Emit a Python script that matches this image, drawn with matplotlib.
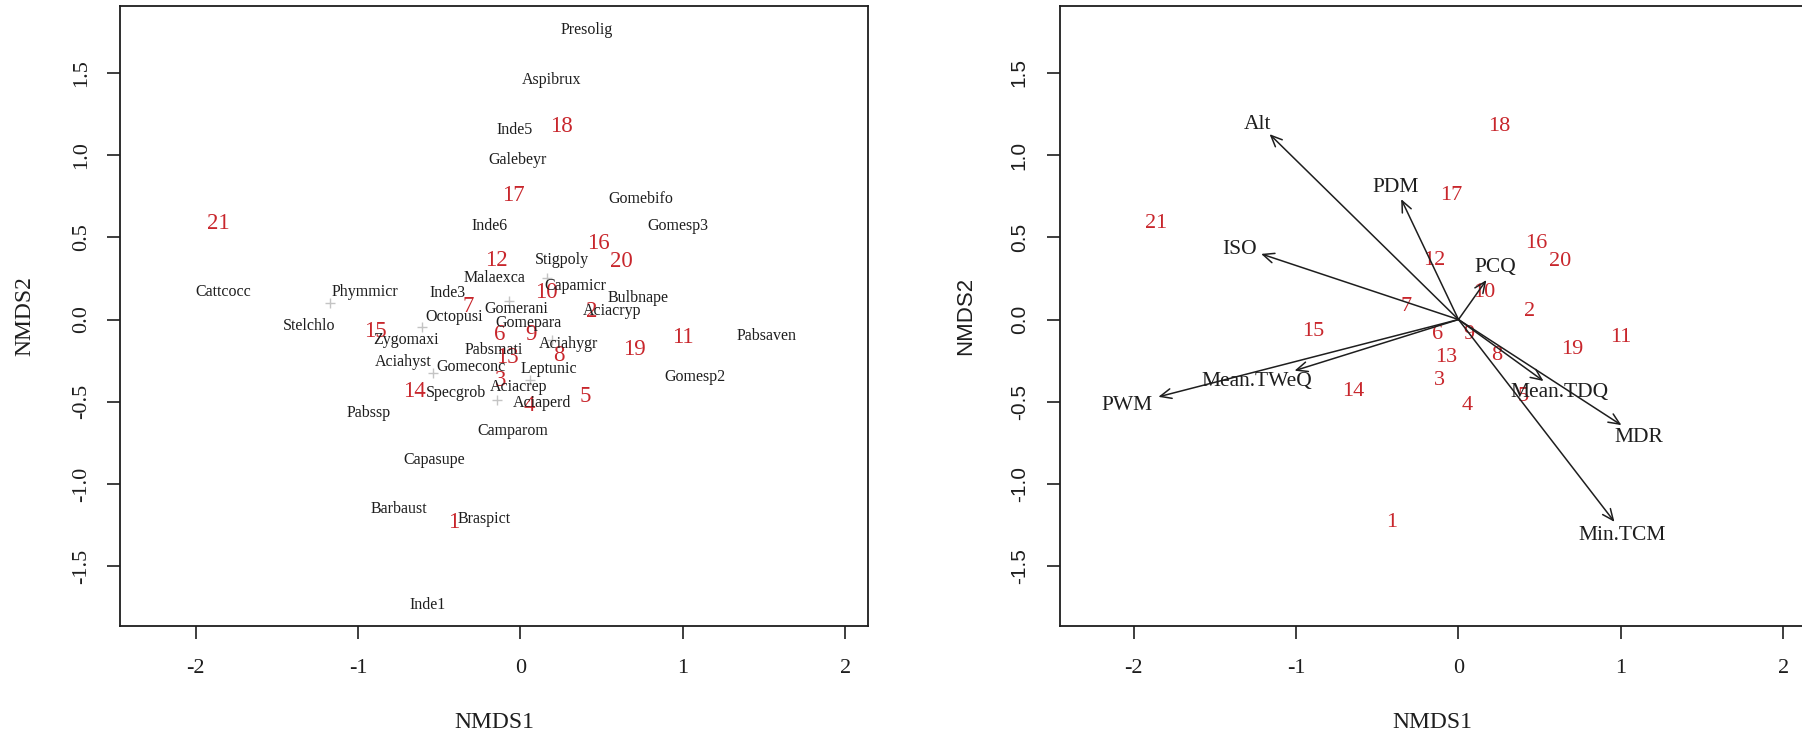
import matplotlib
matplotlib.use("Agg")
import matplotlib.pyplot as plt

plt.rcParams['font.family'] = ['Liberation Serif', 'DejaVu Serif']

# site scores (NMDS1, NMDS2), sites 1..21
site_ids = [str(i) for i in range(1, 22)]
site_x = [-0.413, 0.439, -0.120, 0.055, 0.398, -0.127, -0.323, 0.237, 0.064, 0.157,
          1.000, -0.147, -0.078, -0.650, -0.893, 0.482, -0.045, 0.254, 0.702, 0.624, -1.860]
site_y = [-1.235, 0.050, -0.372, -0.520, -0.466, -0.088, 0.078, -0.218, -0.088, 0.163,
          -0.110, 0.358, -0.228, -0.436, -0.070, 0.465, 0.757, 1.175, -0.185, 0.350, 0.586]

# species scores (labelled)
species = ["Presolig", "Aspibrux", "Inde5", "Galebeyr", "Gomebifo", "Inde6", "Gomesp3",
           "Stigpoly", "Malaexca", "Capamicr", "Inde3", "Bulbnape", "Gomerani", "Aciacryp",
           "Octopusi", "Gomepara", "Aciahygr", "Pabsmati", "Gomeconc", "Leptunic", "Aciacrep",
           "Specgrob", "Aciaperd", "Camparom", "Cattcocc", "Phymmicr", "Stelchlo", "Zygomaxi",
           "Aciahyst", "Pabssp", "Pabsaven", "Gomesp2", "Capasupe", "Barbaust", "Braspict",
           "Inde1"]
spec_x = [0.410, 0.189, -0.033, -0.018, 0.741, -0.189, 0.968,
          0.254, -0.162, 0.336, -0.446, 0.727, -0.024, 0.562,
          -0.405, 0.048, 0.294, -0.162, -0.302, 0.175, -0.014,
          -0.394, 0.134, -0.045, -1.829, -0.956, -1.300, -0.703,
          -0.724, -0.934, 1.518, 1.075, -0.528, -0.751, -0.225,
          -0.573]
spec_y = [1.762, 1.458, 1.153, 0.967, 0.731, 0.571, 0.571,
          0.362, 0.251, 0.204, 0.163, 0.129, 0.062, 0.054,
          0.017, -0.019, -0.149, -0.186, -0.287, -0.303, -0.409,
          -0.446, -0.510, -0.677, 0.169, 0.169, -0.040, -0.125,
          -0.257, -0.567, -0.100, -0.348, -0.851, -1.153, -1.210,
          -1.733]

# unlabelled species points (+)
plus_x = [-1.172, -0.607, -0.539, 0.165, -0.073, 0.058, -0.147, 0.192]
plus_y = [0.099, -0.044, -0.324, 0.255, 0.113, -0.368, -0.490, -0.125]

# environmental vectors: arrow tips and label positions
env_names = ["Alt", "PDM", "ISO", "PCQ", "Mean.TWeQ", "PWM", "Mean.TDQ", "MDR", "Min.TCM"]
env_x = [-1.164, -0.353, -1.216, 0.172, -1.010, -1.849, 0.524, 1.004, 0.961]
env_y = [1.127, 0.732, 0.399, 0.240, -0.311, -0.470, -0.374, -0.642, -1.230]
env_lab_x = [-1.240, -0.389, -1.351, 0.225, -1.244, -2.044, 0.620, 1.110, 1.011]
env_lab_y = [1.184, 0.800, 0.427, 0.318, -0.378, -0.520, -0.445, -0.717, -1.312]

xticks = [-2, -1, 0, 1, 2]
yticks = [-1.5, -1.0, -0.5, 0.0, 0.5, 1.0, 1.5]

RED = '#c8262c'
INK = '#1e1e1e'

fig = plt.figure(figsize=(18.02, 7.35), dpi=100)
ax1 = fig.add_axes([120 / 1802, 1 - 626 / 735, 748 / 1802, 620 / 735])
ax2 = fig.add_axes([1060 / 1802, 1 - 626 / 735, 745.5 / 1802, 620 / 735])


def style_axes(ax, xlim, ylim, ysans=False):
    ax.set_xlim(*xlim)
    ax.set_ylim(*ylim)
    ax.set_xticks(xticks)
    ax.set_yticks(yticks)
    ax.set_xticklabels([str(t) for t in xticks])
    ax.set_yticklabels(["%.1f" % t for t in yticks])
    for s in ax.spines.values():
        s.set_linewidth(1.3)
        s.set_color(INK)
    ax.tick_params(direction='out', length=9.5, width=1.2, color=INK,
                   labelsize=16, labelcolor=INK)
    ax.tick_params(axis='x', pad=14)
    ax.tick_params(axis='y', pad=11 if not ysans else 13)
    for lab in ax.get_yticklabels():
        lab.set_rotation(90)
        lab.set_va('center')
        lab.set_ha('right')
        if ysans:
            lab.set_family(['Liberation Sans', 'DejaVu Sans'])
            lab.set_fontsize(15)
    ax.set_xlabel("NMDS1", fontsize=17, color=INK)
    ax.xaxis.set_label_coords(0.5, -0.155)
    ax.xaxis.label.set_va('center')
    if ysans:
        ax.set_ylabel("NMDS2", fontsize=16, color=INK, family=['Liberation Sans', 'DejaVu Sans'])
    else:
        ax.set_ylabel("NMDS2", fontsize=17, color=INK)
    ax.yaxis.set_label_coords(-0.127, 0.5)
    ax.yaxis.label.set_va('center')


# left panel: species and sites
style_axes(ax1, (-2.465, 2.14), (-1.863, 1.906))
ax1.scatter(plus_x, plus_y, marker='+', s=60, color='#c4c4c4', linewidths=1.0, zorder=1)
for name, x, y in zip(species, spec_x, spec_y):
    ax1.text(x, y, name, fontsize=11.5, color=INK, ha='center', va='center', zorder=3)
for sid, x, y in zip(site_ids, site_x, site_y):
    ax1.text(x, y, sid, fontsize=16.5, color=RED, ha='center', va='center', zorder=2)

# right panel: sites and environmental vectors
style_axes(ax2, (-2.455, 2.138), (-1.863, 1.906), ysans=True)
for sid, x, y in zip(site_ids, site_x, site_y):
    ax2.text(x, y, sid, fontsize=16, color=RED, ha='center', va='center', zorder=2)
for name, x, y, lx, ly in zip(env_names, env_x, env_y, env_lab_x, env_lab_y):
    ax2.annotate('', xy=(x, y), xytext=(0, 0),
                 arrowprops=dict(arrowstyle='->,head_length=0.5,head_width=0.22',
                                 mutation_scale=16, lw=1.1, color=INK,
                                 shrinkA=0, shrinkB=0), zorder=3)
    ax2.text(lx, ly, name, fontsize=15.5, color=INK, ha='center', va='center', zorder=4)

fig.savefig("out.png", dpi=100, facecolor='white')
